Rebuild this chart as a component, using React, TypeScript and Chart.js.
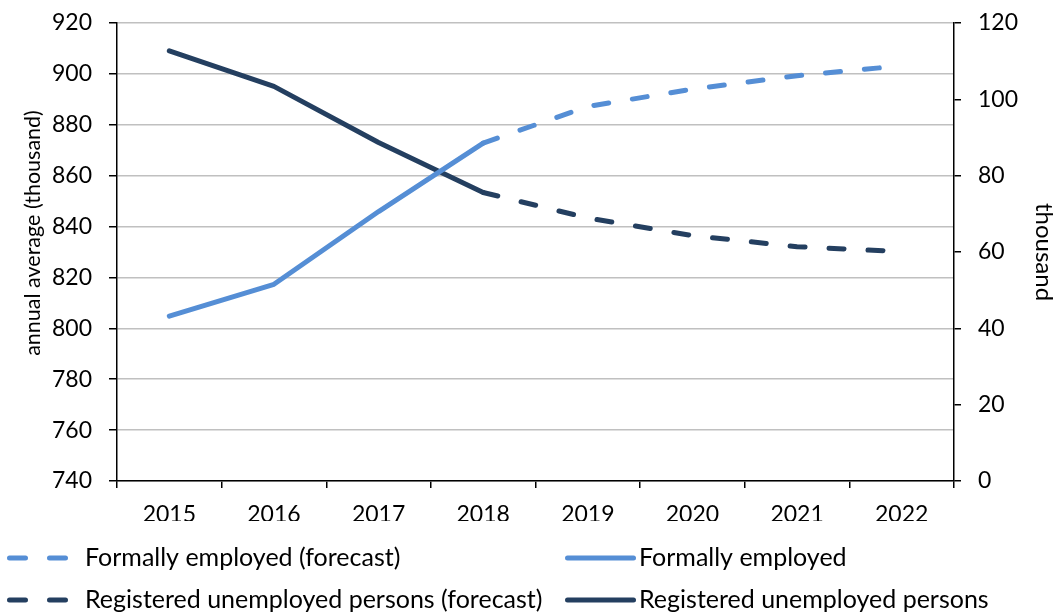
import React, { useEffect, useRef } from "react";
import { Chart, registerables } from "chart.js";

Chart.register(...registerables);

const categories = ["2015", "2016", "2017", "2018", "2019", "2020", "2021", "2022"];
const employed = [804.8, 817.3, 845.9, 872.8, null, null, null, null];
const employedForecast = [null, null, null, 872.8, 887.2, 894.0, 899.3, 903.2];
const unemployed = [112.7, 103.4, 88.7, 75.6, null, null, null, null];
const unemployedForecast = [null, null, null, 75.6, 68.9, 64.3, 61.4, 60.1];

const leftTitle = "annual average (thousand)";
const rightTitle = "thousand";
const legendLabels = [
  "Formally employed (forecast)",
  "Formally employed",
  "Registered unemployed persons (forecast)",
  "Registered unemployed persons",
];

const LIGHT = "#558ED5";
const DARK = "#243F60";
const FONT = "Lato";
const DASH = [15, 24];

const W = 1062;
const H = 612;

const legendPlugin = {
  id: "gridLegend",
  afterDraw(chart: any) {
    const ctx = chart.ctx;
    const items = [
      { label: legendLabels[0], color: LIGHT, dash: true, x: 9.5, x2: 66.5, tx: 85, y: 558 },
      { label: legendLabels[1], color: LIGHT, dash: false, x: 567.5, x2: 633.5, tx: 639, y: 558 },
      { label: legendLabels[2], color: DARK, dash: true, x: 9.5, x2: 66.5, tx: 85, y: 600 },
      { label: legendLabels[3], color: DARK, dash: false, x: 567.5, x2: 633.5, tx: 639, y: 600 },
    ];
    ctx.save();
    for (const it of items) {
      ctx.beginPath();
      ctx.strokeStyle = it.color;
      ctx.lineWidth = 5;
      ctx.lineCap = "round";
      ctx.setLineDash(it.dash ? [16, 24] : []);
      ctx.moveTo(it.x, it.y);
      ctx.lineTo(it.x2, it.y);
      ctx.stroke();
      ctx.setLineDash([]);
      ctx.fillStyle = "#000";
      ctx.font = `25px ${FONT}`;
      ctx.textBaseline = "middle";
      ctx.textAlign = "left";
      ctx.fillText(it.label, it.tx, it.y);
    }
    // left axis title
    ctx.translate(33, 233);
    ctx.rotate(-Math.PI / 2);
    ctx.font = `21.5px ${FONT}`;
    ctx.textAlign = "center";
    ctx.textBaseline = "middle";
    ctx.fillText(leftTitle, 0, 0);
    ctx.restore();
  },
};

export default function App() {
  const ref = useRef<HTMLCanvasElement | null>(null);
  useEffect(() => {
    document.body.style.margin = "0";
    const canvas = ref.current;
    if (!canvas) return;
    const chart = new Chart(canvas, {
      type: "line",
      data: {
        labels: categories,
        datasets: [
          {
            label: legendLabels[1],
            data: employed,
            borderColor: LIGHT,
            backgroundColor: LIGHT,
            borderWidth: 5,
            borderCapStyle: "round",
            borderJoinStyle: "round",
            pointRadius: 0,
            yAxisID: "y",
            order: 1,
          },
          {
            label: legendLabels[0],
            data: employedForecast,
            borderColor: LIGHT,
            backgroundColor: LIGHT,
            borderWidth: 5,
            borderDash: DASH,
            borderCapStyle: "round",
            borderJoinStyle: "round",
            pointRadius: 0,
            yAxisID: "y",
            order: 2,
          },
          {
            label: legendLabels[3],
            data: unemployed,
            borderColor: DARK,
            backgroundColor: DARK,
            borderWidth: 5,
            borderCapStyle: "round",
            borderJoinStyle: "round",
            pointRadius: 0,
            yAxisID: "y2",
            order: 3,
          },
          {
            label: legendLabels[2],
            data: unemployedForecast,
            borderColor: DARK,
            backgroundColor: DARK,
            borderWidth: 5,
            borderDash: DASH,
            borderCapStyle: "round",
            borderJoinStyle: "round",
            pointRadius: 0,
            yAxisID: "y2",
            order: 4,
          },
        ],
      },
      options: {
        responsive: false,
        animation: false,
        spanGaps: false,
        layout: { padding: { top: 23, left: 0, right: 0, bottom: 91 } },
        plugins: {
          legend: { display: false },
          tooltip: { enabled: false },
        },
        scales: {
          x: {
            offset: true,
            grid: {
              offset: true,
              drawOnChartArea: false,
              drawTicks: true,
              tickLength: 7,
              tickColor: "#000",
              lineWidth: 1.5,
            },
            border: { color: "#000", width: 1.5 },
            ticks: { color: "#000", font: { family: FONT, size: 23 }, padding: 13, maxRotation: 0 },
            afterFit: (s: any) => {
              s.height = 40;
              s.paddingLeft = 0;
              s.paddingRight = 0;
            },
          },
          y: {
            position: "left",
            min: 740,
            max: 920,
            ticks: { stepSize: 20, color: "#000", font: { family: FONT, size: 23 }, padding: 17 },
            grid: {
              color: "#C0C0C0",
              lineWidth: 1.5,
              tickColor: "#000",
              tickLength: 8,
            },
            border: { color: "#000", width: 1.5 },
            afterFit: (s: any) => {
              s.width = 117;
              s.paddingTop = 0;
              s.paddingBottom = 0;
            },
          },
          y2: {
            position: "right",
            min: 0,
            max: 120,
            ticks: { stepSize: 20, color: "#000", font: { family: FONT, size: 23 }, padding: 17 },
            grid: {
              drawOnChartArea: false,
              tickColor: "#000",
              tickLength: 7,
              lineWidth: 1.5,
            },
            border: { color: "#000", width: 1.5 },
            title: {
              display: true,
              text: rightTitle,
              color: "#000",
              font: { family: FONT, size: 24 },
              padding: { top: 4, bottom: 0 },
            },
            afterFit: (s: any) => {
              s.width = 108;
              s.paddingTop = 0;
              s.paddingBottom = 0;
            },
          },
        },
      },
      plugins: [legendPlugin],
    });
    return () => chart.destroy();
  }, []);
  return <canvas ref={ref} width={W} height={H} style={{ display: "block", width: W, height: H }} />;
}
